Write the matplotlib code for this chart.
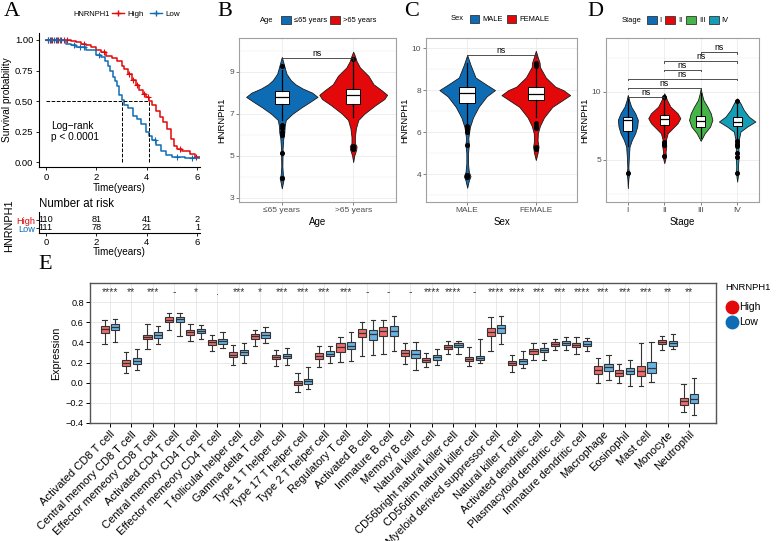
import numpy as np
import matplotlib.pyplot as plt
from matplotlib.patches import Patch
from matplotlib.lines import Line2D

plt.rcParams['font.family'] = ['Liberation Sans', 'DejaVu Sans']

# ---------------- A: survival ----------------
km_time_high = [0, 1.0, 1.2, 1.4, 1.6, 1.8, 2.0, 2.2, 2.4, 2.6, 2.8, 3.0, 3.1, 3.25, 3.4, 3.55,
                3.7, 3.85, 3.96, 4.1, 4.2, 4.35, 4.5, 4.65, 4.8, 4.95, 5.07, 5.2, 5.4, 5.7, 5.9, 6.2]
km_surv_high = [1.0, 0.99, 0.98, 0.97, 0.96, 0.94, 0.92, 0.90, 0.87, 0.85, 0.83, 0.79, 0.76, 0.72,
                0.67, 0.63, 0.59, 0.56, 0.53, 0.50, 0.47, 0.42, 0.37, 0.33, 0.27, 0.19, 0.13, 0.11,
                0.09, 0.07, 0.04, 0.03]
km_time_low = [0, 0.8, 1.0, 1.2, 1.6, 2.0, 2.2, 2.35, 2.45, 2.55, 2.65, 2.72, 2.8, 2.9, 3.0, 3.1,
               3.24, 3.44, 3.6, 3.75, 3.96, 4.1, 4.2, 4.35, 4.55, 4.75, 5.0, 5.5, 6.2]
km_surv_low = [1.0, 0.97, 0.96, 0.945, 0.92, 0.88, 0.86, 0.83, 0.79, 0.75, 0.70, 0.66, 0.62, 0.55,
               0.51, 0.47, 0.44, 0.38, 0.35, 0.31, 0.25, 0.21, 0.18, 0.14, 0.09, 0.06, 0.04, 0.03, 0.02]
cens_high = [0.08, 0.15, 0.25, 0.4, 0.5, 0.6, 0.7, 0.85, 1.5, 2.3, 3.3, 3.45, 3.6, 3.9, 4.05, 5.3, 5.95]
cens_low = [0.1, 0.2, 0.33, 0.45, 0.55, 1.1, 1.35, 1.5, 2.1, 4.3, 5.2, 5.8]
median_high = 4.1
median_low = 3.0
risk_times = [0, 2, 4, 6]
risk_high = [110, 81, 41, 2]
risk_low = [111, 78, 21, 1]

# ---------------- B: age ----------------
age_groups = ['\u226465 years', '>65 years']
age_y = [[3.45, 3.8, 3.95, 4.1, 4.5, 5.0, 5.15, 5.3, 5.8, 6.1, 6.4, 6.7, 7.0, 7.3, 7.55, 7.8, 8.0,
          8.2, 8.4, 8.6, 8.9, 9.2, 9.45, 9.7],
         [4.7, 5.0, 5.3, 5.45, 5.6, 5.9, 6.3, 6.7, 7.0, 7.4, 7.7, 7.9, 8.1, 8.4, 8.8, 9.2, 9.5, 9.75, 9.95]]
age_dens = [[0, 0.04, 0.06, 0.03, 0.015, 0.02, 0.04, 0.02, 0.04, 0.07, 0.08, 0.11, 0.3, 0.55, 0.78,
             1.0, 0.85, 0.58, 0.38, 0.25, 0.13, 0.08, 0.04, 0],
            [0, 0.03, 0.09, 0.1, 0.05, 0.05, 0.08, 0.15, 0.33, 0.65, 0.92, 1.0, 0.85, 0.6, 0.45, 0.2,
             0.1, 0.05, 0]]
age_q1 = [7.48, 7.48]
age_med = [7.8, 7.87]
age_q3 = [8.1, 8.19]
age_lo = [6.7, 6.85]
age_hi = [9.1, 9.45]
age_out = [[6.45, 6.3, 6.15, 6.0, 5.15, 3.95, 9.25], [5.45, 5.35, 5.3, 9.6]]

# ---------------- C: sex ----------------
sex_groups = ['MALE', 'FEMALE']
sex_y = [[3.35, 3.7, 3.9, 4.1, 4.5, 5.0, 5.4, 5.7, 6.0, 6.25, 6.7, 7.2, 7.7, 8.0, 8.25, 8.6, 9.2, 9.67],
         [4.67, 5.0, 5.3, 5.6, 5.95, 6.3, 6.7, 7.2, 7.5, 7.76, 8.0, 8.16, 8.6, 9.1, 9.3, 9.6, 9.87]]
sex_dens = [[0, 0.06, 0.12, 0.06, 0.03, 0.03, 0.06, 0.04, 0.07, 0.1, 0.21, 0.41, 0.7, 1.0, 0.7, 0.3,
             0.12, 0],
            [0, 0.05, 0.08, 0.05, 0.06, 0.12, 0.24, 0.48, 0.76, 1.0, 0.8, 0.57, 0.29, 0.12, 0.11, 0.05, 0]]
sex_q1 = [7.40, 7.52]
sex_med = [7.87, 7.81]
sex_q3 = [8.16, 8.13]
sex_lo = [6.45, 6.7]
sex_hi = [9.3, 9.0]
sex_out = [[6.3, 6.15, 6.0, 5.4, 3.95, 3.85], [9.15, 9.2, 9.3, 6.45, 6.3, 6.2, 5.3, 5.2]]

# ---------------- D: stage ----------------
stages = ['I', 'II', 'III', 'IV']
stage_y = [[2.92, 3.6, 4.0, 4.4, 5.25, 5.98, 6.47, 6.96, 7.45, 7.94, 8.43, 8.92, 9.4, 9.78],
           [4.76, 5.25, 5.6, 5.98, 6.47, 6.96, 7.33, 7.7, 8.07, 8.43, 8.92, 9.41, 9.9],
           [6.4, 6.96, 7.45, 7.94, 8.43, 8.92, 9.41, 9.9, 10.27],
           [3.4, 4.02, 4.6, 5.0, 5.74, 6.47, 7.08, 7.45, 7.82, 8.18, 8.68, 9.17, 9.53]]
stage_dens = [[0, 0.05, 0.13, 0.05, 0.1, 0.17, 0.4, 0.73, 0.93, 1.0, 0.73, 0.33, 0.12, 0],
              [0, 0.1, 0.08, 0.12, 0.1, 0.21, 0.52, 0.83, 1.0, 0.83, 0.38, 0.17, 0],
              [0, 0.34, 0.8, 1.0, 0.86, 0.57, 0.23, 0.08, 0],
              [0, 0.06, 0.05, 0.07, 0.07, 0.09, 0.18, 0.55, 1.0, 0.64, 0.36, 0.18, 0]]
stage_q1 = [7.15, 7.57, 7.45, 7.5]
stage_med = [7.95, 8.01, 7.87, 7.82]
stage_q3 = [8.18, 8.31, 8.24, 8.14]
stage_lo = [6.0, 6.7, 6.6, 6.6]
stage_hi = [9.6, 9.4, 9.9, 9.1]
stage_out = [[4.0], [6.3, 6.2, 6.1, 5.3, 9.6], [], [6.4, 6.2, 6.0, 5.5, 5.2, 4.0, 9.3]]
stage_pairs = [(1, 2), (1, 3), (1, 4), (2, 3), (2, 4), (3, 4)]
stage_pair_y = [9.65, 10.32, 10.98, 11.64, 12.28, 12.92]

# ---------------- E: immune cells ----------------
cells = ['Activated CD8 T cell', 'Central memory CD8 T cell', 'Effector memeory CD8 T cell',
         'Activated CD4 T cell', 'Central memory CD4 T cell', 'Effector memeory CD4 T cell',
         'T follicular helper cell', 'Gamma delta T cell', 'Type 1 T helper cell',
         'Type 17 T helper cell', 'Type 2 T helper cell', 'Regulatory T cell', 'Activated B cell',
         'Immature B cell', 'Memory B cell', 'Natural killer cell', 'CD56bright natural killer cell',
         'CD56dim natural killer cell', 'Myeloid derived suppressor cell', 'Natural killer T cell',
         'Activated dendritic cell', 'Plasmacytoid dendritic cell', 'Immature dendritic cell',
         'Macrophage', 'Eosinophil', 'Mast cell', 'Monocyte', 'Neutrophil']
sig = ['****', '**', '***', '-', '*', '.', '***', '*', '***', '***', '***', '***', '-', '-', '-',
       '****', '****', '-', '****', '****', '***', '***', '****', '***', '***', '***', '**', '**']
hi_med = [0.53, 0.197, 0.453, 0.627, 0.50, 0.40, 0.28, 0.46, 0.253, 0.0, 0.267, 0.35, 0.493, 0.513,
          0.293, 0.227, 0.353, 0.237, 0.507, 0.197, 0.31, 0.383, 0.373, 0.13, 0.097, 0.117, 0.407, -0.183]
hi_q1 = [0.497, 0.17, 0.43, 0.603, 0.477, 0.377, 0.257, 0.433, 0.233, -0.027, 0.24, 0.307, 0.45, 0.467,
         0.263, 0.207, 0.333, 0.217, 0.463, 0.173, 0.287, 0.363, 0.35, 0.09, 0.067, 0.067, 0.387, -0.223]
hi_q3 = [0.56, 0.223, 0.473, 0.65, 0.523, 0.423, 0.30, 0.487, 0.273, 0.017, 0.293, 0.39, 0.537, 0.553,
         0.32, 0.243, 0.37, 0.253, 0.547, 0.217, 0.333, 0.40, 0.393, 0.167, 0.123, 0.167, 0.427, -0.147]
hi_lo = [0.38, 0.097, 0.337, 0.52, 0.41, 0.313, 0.173, 0.363, 0.167, -0.093, 0.153, 0.203, 0.267, 0.287,
         0.183, 0.16, 0.283, 0.17, 0.317, 0.11, 0.227, 0.327, 0.287, 0.0, 0.0, -0.037, 0.327, -0.29]
hi_hi = [0.62, 0.307, 0.583, 0.69, 0.58, 0.477, 0.37, 0.527, 0.32, 0.097, 0.367, 0.45, 0.607, 0.627,
         0.39, 0.297, 0.417, 0.353, 0.65, 0.277, 0.39, 0.437, 0.45, 0.243, 0.19, 0.393, 0.467, -0.017]
lo_med = [0.557, 0.217, 0.477, 0.633, 0.513, 0.41, 0.30, 0.473, 0.27, 0.017, 0.29, 0.367, 0.483, 0.513,
          0.29, 0.253, 0.373, 0.243, 0.54, 0.213, 0.327, 0.393, 0.387, 0.157, 0.117, 0.147, 0.39, -0.157]
lo_q1 = [0.527, 0.187, 0.447, 0.603, 0.49, 0.383, 0.277, 0.447, 0.25, -0.01, 0.263, 0.333, 0.423, 0.467,
         0.25, 0.23, 0.353, 0.223, 0.497, 0.19, 0.303, 0.37, 0.363, 0.117, 0.09, 0.097, 0.363, -0.2]
lo_q3 = [0.587, 0.247, 0.507, 0.657, 0.537, 0.437, 0.323, 0.50, 0.29, 0.04, 0.317, 0.40, 0.523, 0.56,
         0.323, 0.277, 0.39, 0.263, 0.577, 0.233, 0.347, 0.417, 0.41, 0.19, 0.143, 0.207, 0.417, -0.11]
lo_lo = [0.407, 0.127, 0.383, 0.467, 0.43, 0.34, 0.193, 0.39, 0.18, -0.06, 0.197, 0.22, 0.277, 0.317,
         0.123, 0.18, 0.29, 0.197, 0.38, 0.15, 0.227, 0.32, 0.313, 0.027, -0.033, 0.003, 0.33, -0.32]
lo_hi = [0.637, 0.33, 0.563, 0.69, 0.577, 0.50, 0.39, 0.55, 0.343, 0.153, 0.367, 0.503, 0.627, 0.66,
         0.407, 0.33, 0.417, 0.437, 0.66, 0.317, 0.39, 0.45, 0.44, 0.28, 0.23, 0.403, 0.483, 0.043]

RED = '#E3080A'
BLUE = '#0E6CB5'
GREEN = '#45B449'
TEAL = '#149DB7'

W, H = 777, 541
fig = plt.figure(figsize=(W / 100, H / 100), dpi=100)


def rect(l, t, r, b):
    return [l / W, 1 - b / H, (r - l) / W, (b - t) / H]


def panel_letter(x, y, s):
    fig.text(x / W, 1 - y / H, s, family='Liberation Serif', fontsize=16, va='top', ha='left')


# ---------- A ----------
ax = fig.add_axes(rect(39, 33, 200, 167))
for t, s, c, ct in [(km_time_high, km_surv_high, RED, cens_high), (km_time_low, km_surv_low, BLUE, cens_low)]:
    ax.step(t, s, where='post', color=c, lw=1.1)
    idx = np.searchsorted(t, ct, side='right') - 1
    ax.plot(ct, np.array(s)[idx], '+', color=c, ms=4, mew=0.8)
ax.plot([0, median_high], [0.5, 0.5], 'k--', lw=0.7)
ax.plot([median_low, median_low], [0, 0.5], 'k--', lw=0.7)
ax.plot([median_high, median_high], [0, 0.5], 'k--', lw=0.7)
ax.text(0.2, 0.25, 'Log\u2212rank\np < 0.0001', fontsize=7.3, va='center', linespacing=1.2)
ax.set_xlim(-0.27, 6.1)
ax.set_ylim(-0.04, 1.057)
ax.set_xticks([0, 2, 4, 6])
ax.set_yticks([0, 0.25, 0.5, 0.75, 1.0])
ax.set_yticklabels(['0.00', '0.25', '0.50', '0.75', '1.00'])
ax.tick_params(labelsize=6.8, length=2.5, width=0.6, pad=1.5)
ax.spines[['top', 'right']].set_visible(False)
ax.set_xlabel('Time(years)', fontsize=7.2, labelpad=1)
ax.set_ylabel('Survival probability', fontsize=7.3, labelpad=2)

fig.text(73 / W, 1 - 14 / H, 'HNRNPH1', fontsize=5.4, va='center')
leg = fig.legend(handles=[Line2D([], [], color=RED, marker='+', lw=1, ms=4),
                          Line2D([], [], color=BLUE, marker='+', lw=1, ms=4)],
                 labels=['High', 'Low'], loc='center left', bbox_to_anchor=(108 / W, 1 - 14 / H),
                 ncol=2, frameon=False, fontsize=5.8, handlelength=1.5, handletextpad=0.4,
                 columnspacing=0.8, borderpad=0)

# risk table
axr = fig.add_axes(rect(39, 212, 200, 233))
for t, nh, nl in zip(risk_times, risk_high, risk_low):
    axr.text(t, 1, str(nh), ha='center', va='center', fontsize=6.6)
    axr.text(t, 0, str(nl), ha='center', va='center', fontsize=6.6)
axr.set_xlim(-0.27, 6.1)
axr.set_ylim(-0.625, 2.0)
axr.set_xticks([0, 2, 4, 6])
axr.set_yticks([1, 0])
axr.set_yticklabels(['High', 'Low'])
for lab, c in zip(axr.get_yticklabels(), [RED, BLUE]):
    lab.set_color(c)
axr.tick_params(axis='y', labelsize=6.6, length=2, width=0.6, pad=0.5)
axr.tick_params(axis='x', labelsize=6.8, length=2.5, width=0.6, pad=1)
axr.spines[['top', 'right']].set_visible(False)
axr.set_xlabel('Time(years)', fontsize=7.2, labelpad=0)
fig.text(39 / W, 1 - 204 / H, 'Number at risk', fontsize=8.3, va='center')
fig.text(9 / W, 1 - 226 / H, 'HNRNPH1', fontsize=7.8, rotation=90, ha='center', va='center')
panel_letter(4, 2, 'A')


# ---------- violin panels ----------
def violin_panel(ax, ys, dens, widths, q1, med, q3, lo, hi, out, colors, boxw):
    n = len(ys)
    pos = np.arange(1, n + 1)
    vstats = [dict(coords=np.array(y), vals=np.array(d), mean=m, median=m, min=y[0], max=y[-1])
              for y, d, m in zip(ys, dens, med)]
    parts = ax.violin(vstats, positions=pos, widths=widths, showextrema=False)
    for body, c in zip(parts['bodies'], colors):
        body.set_facecolor(c)
        body.set_edgecolor('#1a1a1a')
        body.set_alpha(1)
        body.set_linewidth(0.6)
        body.set_zorder(2)
    bstats = [dict(q1=a, med=b, q3=c, whislo=d, whishi=e, fliers=f)
              for a, b, c, d, e, f in zip(q1, med, q3, lo, hi, out)]
    ax.bxp(bstats, positions=pos, widths=boxw, patch_artist=True, showcaps=False,
           boxprops=dict(facecolor='white', edgecolor='black', lw=0.7),
           medianprops=dict(color='black', lw=0.9), whiskerprops=dict(color='black', lw=0.9),
           flierprops=dict(marker='o', mfc='black', mec='black', ms=2.6), manage_ticks=False,
           zorder=3)
    ax.set_xlim(0.4, n + 0.6)
    ax.set_xticks(pos)
    ax.grid(which='both', color='#EBEBEB', lw=0.6, zorder=0)
    ax.grid(which='minor', lw=0.35)
    ax.set_axisbelow(True)
    for sp in ax.spines.values():
        sp.set_color('#A0A0A0')
        sp.set_linewidth(0.8)
    ax.tick_params(which='major', labelsize=6, colors='#4D4D4D', length=2, width=0.5, pad=1.5)
    ax.tick_params(which='minor', length=0)


def bracket(ax, x1, x2, y, tip, label):
    ax.plot([x1, x1, x2, x2], [y - tip, y, y, y - tip], color='#333333', lw=0.6, zorder=4)
    ax.text((x1 + x2) / 2, y, label, ha='center', va='bottom', fontsize=6.2)


def legend_row(x_title, y, title, x_keys, labels, colors):
    fig.text(x_title / W, 1 - y / H, title, fontsize=5.4, va='center')
    hs = [Patch(facecolor=c, edgecolor='#333333', lw=0.6) for c in colors]
    fig.legend(handles=hs, labels=labels, loc='center left', bbox_to_anchor=(x_keys / W, 1 - y / H),
               ncol=len(labels), frameon=False, fontsize=5.4, handlelength=1.3, handleheight=1.2,
               handletextpad=0.4, columnspacing=0.5, borderpad=0)


# B
axb = fig.add_axes(rect(239, 38, 396, 202))
violin_panel(axb, age_y, age_dens, [1.0, 0.95], age_q1, age_med, age_q3, age_lo, age_hi, age_out,
             [BLUE, RED], 0.2)
axb.set_ylim(2.8, 10.6)
axb.set_yticks([3, 5, 7, 9])
axb.set_yticks([4, 6, 8, 10], minor=True)
axb.set_xticklabels(age_groups)
bracket(axb, 1, 2, 9.67, 0.12, 'ns')
axb.set_xlabel('Age', fontsize=7, labelpad=2)
axb.set_ylabel('HNRNPH1', fontsize=6.8, labelpad=2)
legend_row(260, 20, 'Age', 277, age_groups, [BLUE, RED])
panel_letter(217, 2, 'B')

# C
axc = fig.add_axes(rect(426, 38, 577, 202))
violin_panel(axc, sex_y, sex_dens, [0.81, 1.0], sex_q1, sex_med, sex_q3, sex_lo, sex_hi, sex_out,
             [BLUE, RED], 0.24)
axc.set_ylim(2.67, 10.48)
axc.set_yticks([4, 6, 8, 10])
axc.set_yticks([3, 5, 7, 9], minor=True)
axc.set_xticklabels(sex_groups)
bracket(axc, 1, 2, 9.67, 0.12, 'ns')
axc.set_xlabel('Sex', fontsize=7, labelpad=2)
axc.set_ylabel('HNRNPH1', fontsize=6.8, labelpad=2)
legend_row(451, 19, 'Sex', 466, sex_groups, [BLUE, RED])
panel_letter(404, 2, 'C')

# D
axd = fig.add_axes(rect(606, 38, 759, 202))
violin_panel(axd, stage_y, stage_dens, [0.55, 0.88, 0.64, 1.0], stage_q1, stage_med, stage_q3,
             stage_lo, stage_hi, stage_out, [BLUE, RED, GREEN, TEAL], 0.24)
axd.set_ylim(1.9, 13.97)
axd.set_yticks([5, 10])
axd.set_yticks([2.5, 7.5, 12.5], minor=True)
axd.set_xticklabels(stages)
for (a, b), y in zip(stage_pairs, stage_pair_y):
    bracket(axd, a, b, y, 0.12, 'ns')
axd.set_xlabel('Stage', fontsize=7, labelpad=2)
axd.set_ylabel('HNRNPH1', fontsize=6.8, labelpad=2)
legend_row(622, 20, 'Stage', 643, stages, [BLUE, RED, GREEN, TEAL])
panel_letter(587, 2, 'D')

# ---------- E ----------
axe = fig.add_axes(rect(90, 283, 716, 423))
pos = np.arange(1, len(cells) + 1)
hi_stats = [dict(q1=a, med=b, q3=c, whislo=d, whishi=e, fliers=[])
            for a, b, c, d, e in zip(hi_q1, hi_med, hi_q3, hi_lo, hi_hi)]
lo_stats = [dict(q1=a, med=b, q3=c, whislo=d, whishi=e, fliers=[])
            for a, b, c, d, e in zip(lo_q1, lo_med, lo_q3, lo_lo, lo_hi)]
for st, off, fc in [(hi_stats, -0.25, '#F06C6C'), (lo_stats, 0.25, '#6AB2E2')]:
    axe.bxp(st, positions=pos + off, widths=0.38, patch_artist=True, capwidths=0.2,
            boxprops=dict(facecolor=fc, edgecolor='#333333', lw=0.8),
            medianprops=dict(color='#333333', lw=0.9), whiskerprops=dict(color='#333333', lw=0.8),
            capprops=dict(color='#333333', lw=0.8), manage_ticks=False, zorder=3)
for x, s in zip(pos, sig):
    axe.text(x, 0.90, s, ha='center', va='center', fontsize=7.5, color='#333333')
axe.set_xlim(0.07, 29.26)
axe.set_ylim(-0.4, 0.99)
axe.set_xticks(pos)
axe.set_xticklabels(cells, rotation=45, ha='right', va='top', rotation_mode='anchor', fontsize=8)
axe.set_yticks([-0.4, -0.2, 0.0, 0.2, 0.4, 0.6, 0.8])
axe.set_yticklabels(['\u22120.4', '\u22120.2', '0.0', '0.2', '0.4', '0.6', '0.8'])
axe.tick_params(axis='y', labelsize=6.6, length=3, width=0.7, pad=1.5)
axe.tick_params(axis='x', length=3, width=0.7, pad=1.5)
axe.grid(color='#E5E5E5', lw=0.6)
axe.set_axisbelow(True)
for sp in axe.spines.values():
    sp.set_color('#555555')
    sp.set_linewidth(1.0)
axe.set_ylabel('Expression', fontsize=7.7, labelpad=3)

fig.text(725 / W, 1 - 288 / H, 'HNRNPH1', fontsize=6.8, va='center')
fig.legend(handles=[Line2D([], [], ls='', marker='o', ms=9, color=RED),
                    Line2D([], [], ls='', marker='o', ms=9, color=BLUE)],
           labels=['High', 'Low'], loc='upper left', bbox_to_anchor=(723 / W, 1 - 297 / H),
           frameon=False, fontsize=7.5, handlelength=0.8, handletextpad=0.2, labelspacing=0.5,
           borderpad=0)
panel_letter(38, 255, 'E')

fig.savefig('out.png', dpi=100)
